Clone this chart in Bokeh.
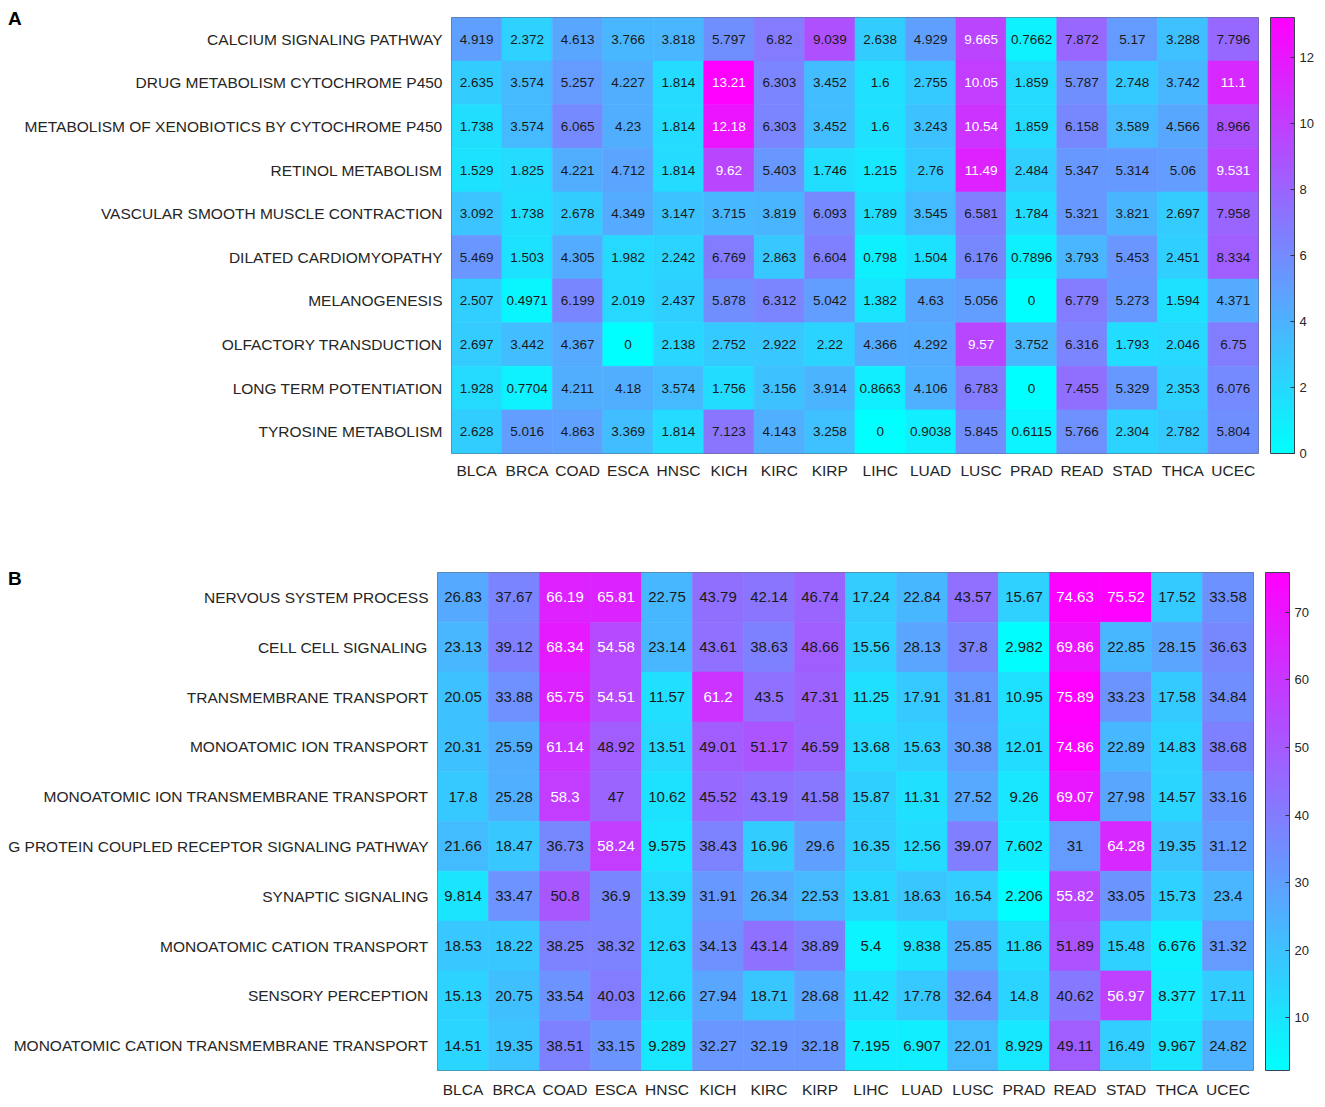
from bokeh.plotting import figure
from bokeh.models import (LinearColorMapper, ColorBar, FixedTicker, Div,
                          ColumnDataSource, FactorRange)
from bokeh.transform import transform
from bokeh.core.properties import value
from bokeh.embed import file_html
from bokeh.resources import INLINE

cols = ["BLCA", "BRCA", "COAD", "ESCA", "HNSC", "KICH", "KIRC", "KIRP",
        "LIHC", "LUAD", "LUSC", "PRAD", "READ", "STAD", "THCA", "UCEC"]

rows_A = ["CALCIUM SIGNALING PATHWAY", "DRUG METABOLISM CYTOCHROME P450",
          "METABOLISM OF XENOBIOTICS BY CYTOCHROME P450", "RETINOL METABOLISM",
          "VASCULAR SMOOTH MUSCLE CONTRACTION", "DILATED CARDIOMYOPATHY",
          "MELANOGENESIS", "OLFACTORY TRANSDUCTION", "LONG TERM POTENTIATION",
          "TYROSINE METABOLISM"]

vals_A = [
    [4.919, 2.372, 4.613, 3.766, 3.818, 5.797, 6.82, 9.039, 2.638, 4.929, 9.665, 0.7662, 7.872, 5.17, 3.288, 7.796],
    [2.635, 3.574, 5.257, 4.227, 1.814, 13.21, 6.303, 3.452, 1.6, 2.755, 10.05, 1.859, 5.787, 2.748, 3.742, 11.1],
    [1.738, 3.574, 6.065, 4.23, 1.814, 12.18, 6.303, 3.452, 1.6, 3.243, 10.54, 1.859, 6.158, 3.589, 4.566, 8.966],
    [1.529, 1.825, 4.221, 4.712, 1.814, 9.62, 5.403, 1.746, 1.215, 2.76, 11.49, 2.484, 5.347, 5.314, 5.06, 9.531],
    [3.092, 1.738, 2.678, 4.349, 3.147, 3.715, 3.819, 6.093, 1.789, 3.545, 6.581, 1.784, 5.321, 3.821, 2.697, 7.958],
    [5.469, 1.503, 4.305, 1.982, 2.242, 6.769, 2.863, 6.604, 0.798, 1.504, 6.176, 0.7896, 3.793, 5.453, 2.451, 8.334],
    [2.507, 0.4971, 6.199, 2.019, 2.437, 5.878, 6.312, 5.042, 1.382, 4.63, 5.056, 0, 6.779, 5.273, 1.594, 4.371],
    [2.697, 3.442, 4.367, 0, 2.138, 2.752, 2.922, 2.22, 4.366, 4.292, 9.57, 3.752, 6.316, 1.793, 2.046, 6.75],
    [1.928, 0.7704, 4.211, 4.18, 3.574, 1.756, 3.156, 3.914, 0.8663, 4.106, 6.783, 0, 7.455, 5.329, 2.353, 6.076],
    [2.628, 5.016, 4.863, 3.369, 1.814, 7.123, 4.143, 3.258, 0, 0.9038, 5.845, 0.6115, 5.766, 2.304, 2.782, 5.804],
]

rows_B = ["NERVOUS SYSTEM PROCESS", "CELL CELL SIGNALING", "TRANSMEMBRANE TRANSPORT",
          "MONOATOMIC ION TRANSPORT", "MONOATOMIC ION TRANSMEMBRANE TRANSPORT",
          "G PROTEIN COUPLED RECEPTOR SIGNALING PATHWAY", "SYNAPTIC SIGNALING",
          "MONOATOMIC CATION TRANSPORT", "SENSORY PERCEPTION",
          "MONOATOMIC CATION TRANSMEMBRANE TRANSPORT"]

vals_B = [
    [26.83, 37.67, 66.19, 65.81, 22.75, 43.79, 42.14, 46.74, 17.24, 22.84, 43.57, 15.67, 74.63, 75.52, 17.52, 33.58],
    [23.13, 39.12, 68.34, 54.58, 23.14, 43.61, 38.63, 48.66, 15.56, 28.13, 37.8, 2.982, 69.86, 22.85, 28.15, 36.63],
    [20.05, 33.88, 65.75, 54.51, 11.57, 61.2, 43.5, 47.31, 11.25, 17.91, 31.81, 10.95, 75.89, 33.23, 17.58, 34.84],
    [20.31, 25.59, 61.14, 48.92, 13.51, 49.01, 51.17, 46.59, 13.68, 15.63, 30.38, 12.01, 74.86, 22.89, 14.83, 38.68],
    [17.8, 25.28, 58.3, 47, 10.62, 45.52, 43.19, 41.58, 15.87, 11.31, 27.52, 9.26, 69.07, 27.98, 14.57, 33.16],
    [21.66, 18.47, 36.73, 58.24, 9.575, 38.43, 16.96, 29.6, 16.35, 12.56, 39.07, 7.602, 31, 64.28, 19.35, 31.12],
    [9.814, 33.47, 50.8, 36.9, 13.39, 31.91, 26.34, 22.53, 13.81, 18.63, 16.54, 2.206, 55.82, 33.05, 15.73, 23.4],
    [18.53, 18.22, 38.25, 38.32, 12.63, 34.13, 43.14, 38.89, 5.4, 9.838, 25.85, 11.86, 51.89, 15.48, 6.676, 31.32],
    [15.13, 20.75, 33.54, 40.03, 12.66, 27.94, 18.71, 28.68, 11.42, 17.78, 32.64, 14.8, 40.62, 56.97, 8.377, 17.11],
    [14.51, 19.35, 38.51, 33.15, 9.289, 32.27, 32.19, 32.18, 7.195, 6.907, 22.01, 8.929, 49.11, 16.49, 9.967, 24.82],
]

ticks_A = [0, 2, 4, 6, 8, 10, 12]
ticks_B = [10, 20, 30, 40, 50, 60, 70]

# MATLAB "cool" colormap
cool = ["#%02x%02x%02x" % (i, 255 - i, 255) for i in range(256)]
FONT = "Liberation Sans"


def heatmap(rows, vals, ticks, width, height, left, top, bottom, right,
            cell_font, xstand):
    flat = [v for r in vals for v in r]
    lo, hi = min(flat), max(flat)
    mapper = LinearColorMapper(palette=cool, low=lo, high=hi)
    xs, ys, vs, txt, tc = [], [], [], [], []
    for rn, r in zip(rows, vals):
        for cn, v in zip(cols, r):
            xs.append(cn)
            ys.append(rn)
            vs.append(v)
            txt.append("{:.4g}".format(v))
            tc.append("#ffffff" if (v - lo) / (hi - lo) > 0.7 else "#1a1a1a")
    src = ColumnDataSource(dict(x=xs, y=ys, v=vs, t=txt, c=tc))
    p = figure(width=width, height=height, x_range=FactorRange(*cols),
               y_range=FactorRange(*reversed(rows)), output_backend="svg",
               toolbar_location=None, min_border_left=left, min_border_top=top,
               min_border_bottom=bottom, min_border_right=right)
    p.rect("x", "y", 1, 1, source=src, fill_color=transform("v", mapper),
           line_color=transform("v", mapper), line_width=0.6)
    p.text("x", "y", text="t", source=src, text_color="c",
           text_align="center", text_baseline="middle",
           text_font=value(FONT), text_font_size=cell_font)
    p.grid.visible = False
    p.outline_line_color = "#5f6b78"
    p.outline_line_width = 1
    for ax in (p.xaxis, p.yaxis):
        ax.axis_line_color = None
        ax.major_tick_line_color = None
        ax.minor_tick_line_color = None
        ax.major_tick_in = 0
        ax.major_tick_out = 0
        ax.major_label_text_font = FONT
        ax.major_label_text_font_size = "15.5px"
        ax.major_label_text_color = "#262626"
    p.xaxis.major_label_standoff = xstand
    p.yaxis.major_label_standoff = 9
    p.x_range.range_padding = 0
    p.y_range.range_padding = 0
    cb = ColorBar(color_mapper=mapper, width=24, height="auto", padding=0,
                  margin=0, location=(12, 0), ticker=FixedTicker(ticks=ticks),
                  major_tick_in=4, major_tick_out=0,
                  major_tick_line_color="#333333",
                  bar_line_color="#3a4450", bar_line_width=1,
                  border_line_color=None, background_fill_color=None,
                  label_standoff=5, major_label_text_font=FONT,
                  major_label_text_font_size="13px",
                  major_label_text_color="#262626")
    p.add_layout(cb, "right")
    return p


def letter(txt, top):
    return Div(text=txt, styles={"position": "absolute", "left": "3px",
                                 "top": "%dpx" % top,
                                 "font-family": FONT, "font-weight": "bold",
                                 "font-size": "19px", "color": "#000000",
                                 "line-height": "19px", "z-index": "10"})


pA = heatmap(rows_A, vals_A, ticks_A, 1320, 520, 451, 17, 67, 62, "13.5px", 8)
pB = heatmap(rows_B, vals_B, ticks_B, 1320, 580, 437, 52, 27, 67, "15px", 10)

open("out.html", "w").write(file_html([pA, pB, letter("A", 4), letter("B", 564)],
                                      INLINE))
